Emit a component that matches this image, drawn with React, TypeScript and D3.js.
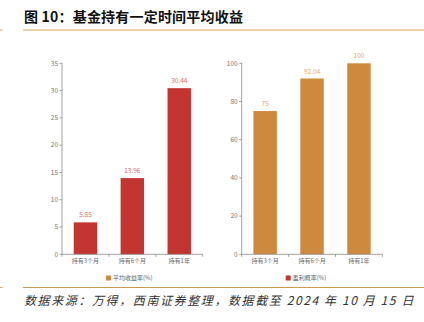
import React from "react";
import * as d3 from "d3";

const categories = ["持有3个月", "持有6个月", "持有1年"];
const avgReturn = [5.85, 13.96, 30.44];
const winProb = [75, 92.04, 100];
const leftTicks = [0, 5, 10, 15, 20, 25, 30, 35];
const rightTicks = [0, 20, 40, 60, 80, 100];
const leftLegend = "平均收益率(%)";
const rightLegend = "盈利概率(%)";
const titleText = "图 10：基金持有一定时间平均收益";
const sourceText = "数据来源：万得，西南证券整理，数据截至 2024 年 10 月 15 日";

const RED = "#c23531";
const ORANGE = "#cd8a3e";
const FONT = "'Noto Sans CJK SC', 'Noto Sans', sans-serif";

type PanelProps = {
  x0: number;
  values: number[];
  ticks: number[];
  max: number;
  color: string;
  labelColor: string;
  legend: string;
  legendColor: string;
};

function Panel({ x0, values, ticks, max, color, labelColor, legend, legendColor }: PanelProps) {
  const top = 63.3;
  const bottom = 254.3;
  const width = 140.7;
  const x = d3.scaleBand<string>().domain(categories).range([x0, x0 + width]).paddingInner(0.5).paddingOuter(0.25);
  const y = d3.scaleLinear().domain([0, max]).range([bottom, top]);
  const axisColor = "#8a8a8a";
  const boundaries = d3.range(categories.length + 1).map((i) => x0 + (width / categories.length) * i);
  return (
    <g>
      {values.map((v, i) => (
        <g key={i}>
          <rect x={x(categories[i])!} y={y(v)} width={x.bandwidth()} height={bottom - y(v)} fill={color} />
          <text x={x(categories[i])! + x.bandwidth() / 2} y={y(v) - 5} textAnchor="middle" fontSize={6.5} fill={labelColor} fontFamily={FONT}>
            {String(v)}
          </text>
        </g>
      ))}
      <line x1={x0} x2={x0} y1={top - 0.5} y2={bottom} stroke={axisColor} strokeWidth={0.8} />
      {ticks.map((t) => (
        <g key={t}>
          <line x1={x0 - 2.5} x2={x0} y1={y(t)} y2={y(t)} stroke={axisColor} strokeWidth={0.8} />
          <text x={x0 - 4} y={y(t)} dy="0.35em" textAnchor="end" fontSize={6.5} fill="#777" fontFamily={FONT}>
            {t}
          </text>
        </g>
      ))}
      <line x1={x0} x2={x0 + width} y1={bottom} y2={bottom} stroke={axisColor} strokeWidth={0.8} />
      {boundaries.map((b, i) => (
        <line key={i} x1={b} x2={b} y1={bottom} y2={bottom + 2.5} stroke={axisColor} strokeWidth={0.8} />
      ))}
      {categories.map((c) => (
        <text key={c} x={x(c)! + x.bandwidth() / 2} y={bottom + 9} textAnchor="middle" fontSize={6} fill="#666" fontFamily={FONT}>
          {c}
        </text>
      ))}
      <rect x={x0 + 44} y={275.5} width={5} height={5} fill={legendColor} />
      <text x={x0 + 51} y={278} dy="0.35em" fontSize={6} fill="#666" fontFamily={FONT}>
        {legend}
      </text>
    </g>
  );
}

export default function App() {
  return (
    <svg width={424} height={322} style={{ position: "absolute", left: 0, top: 0, background: "#fff" }}>
      <text x={24} y={21.5} fontSize={14} fontWeight="bold" fill="#111" fontFamily={FONT} letterSpacing={0.2}>
        {titleText}
      </text>
      <line x1={0} x2={2.5} y1={30} y2={30} stroke="#e0a050" strokeWidth={1} />
      <line x1={23} x2={424} y1={30} y2={30} stroke="#dca255" strokeWidth={1.2} />
      <Panel x0={62} values={avgReturn} ticks={leftTicks} max={35} color={RED} labelColor="#e46a62" legend={leftLegend} legendColor={ORANGE} />
      <Panel x0={241.7} values={winProb} ticks={rightTicks} max={100} color={ORANGE} labelColor="#e3a862" legend={rightLegend} legendColor={RED} />
      <line x1={0} x2={2.5} y1={287.5} y2={287.5} stroke="#e0a050" strokeWidth={1} />
      <line x1={23} x2={424} y1={287.5} y2={287.5} stroke="#c99a50" strokeWidth={1.2} />
      <text x={24} y={305} fontSize={12} fontStyle="italic" fill="#333" fontFamily={FONT} letterSpacing={1.6}>
        {sourceText}
      </text>
    </svg>
  );
}
